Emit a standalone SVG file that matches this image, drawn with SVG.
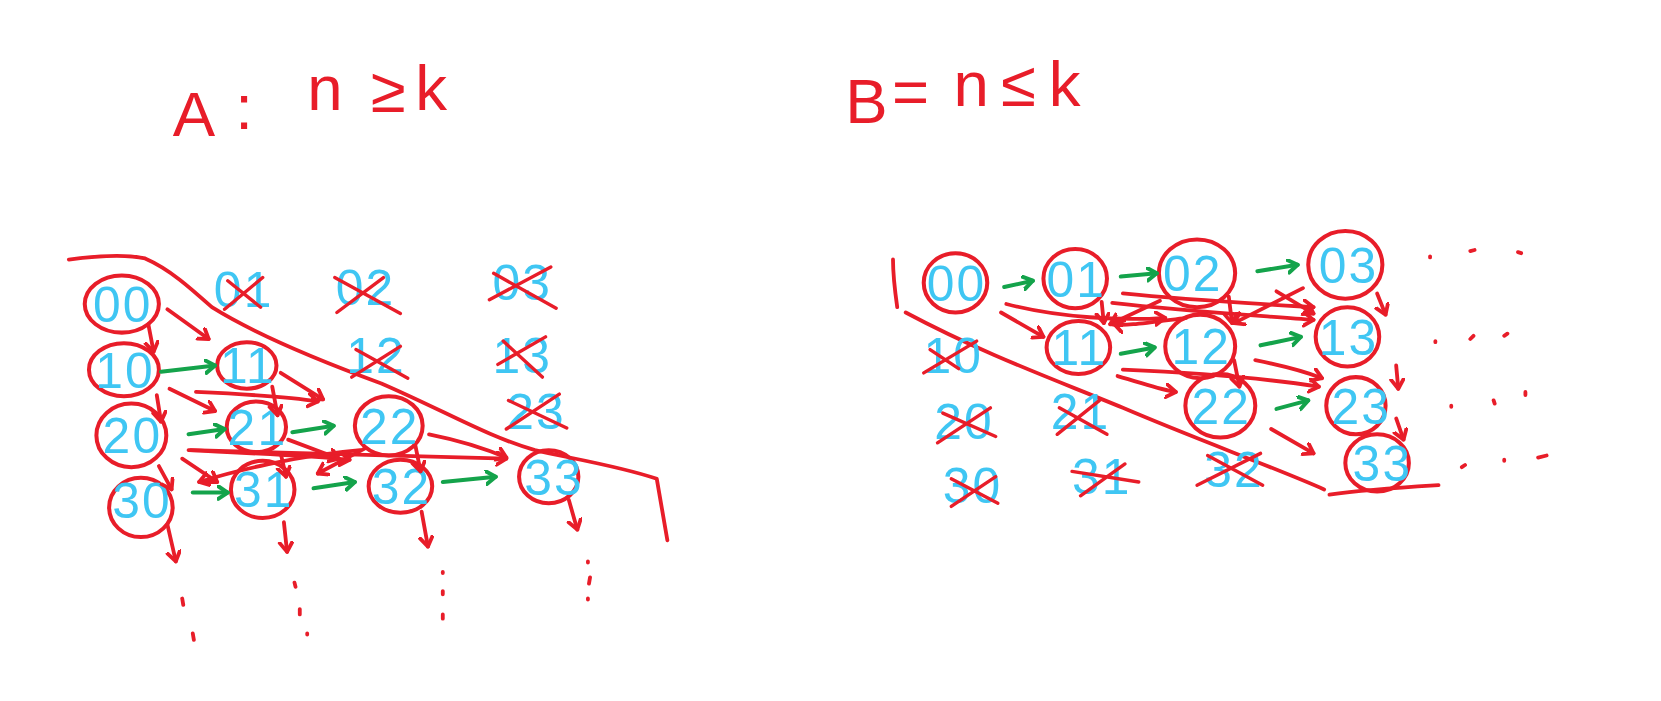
<svg xmlns="http://www.w3.org/2000/svg" width="1661" height="701" viewBox="0 0 1661 701">
<style>
.r{stroke:#e81d29;fill:none;stroke-width:3.6;stroke-linecap:round;stroke-linejoin:round}
.g{stroke:#14a34b;fill:none;stroke-width:3.8;stroke-linecap:round;stroke-linejoin:round}
.c{stroke:#e81d29;fill:none;stroke-width:3.8}
.x{stroke:#e81d29;fill:none;stroke-width:3.2;stroke-linecap:round}
.l{font-family:"Liberation Sans",Arial,sans-serif;font-size:47px;letter-spacing:2px;fill:#3fc6f3;text-anchor:middle}
.t{font-family:"Liberation Sans",Arial,sans-serif;font-size:60px;fill:#e81d29}
</style>
<defs>
<marker id="ar" markerUnits="userSpaceOnUse" markerWidth="16" markerHeight="16" refX="10" refY="7" orient="auto"><path d="M1,1 L10,7 L1,13" fill="none" stroke="#e81d29" stroke-width="3.6" stroke-linecap="round" stroke-linejoin="round"/></marker>
<marker id="ag" markerUnits="userSpaceOnUse" markerWidth="16" markerHeight="16" refX="10" refY="7" orient="auto"><path d="M1,1 L10,7 L1,13" fill="none" stroke="#14a34b" stroke-width="3.8" stroke-linecap="round" stroke-linejoin="round"/></marker>
</defs>
<rect width="1661" height="701" fill="#ffffff"/>
<g transform="scale(1.05931)">
<g id="titles">
<text class="t" x="163" y="128" font-size="64">A</text>
<text class="t" x="222" y="122" font-size="40">:</text>
<text class="t" x="290" y="104" font-size="52">n</text>
<text class="t" x="350" y="106" font-size="50">≥</text>
<text class="t" x="392" y="104" font-size="62">k</text>
<text class="t" x="798" y="116">B</text>
<text class="t" x="842" y="108" font-size="50">=</text>
<text class="t" x="900" y="100" font-size="52">n</text>
<text class="t" x="945" y="100" font-size="50">≤</text>
<text class="t" x="990" y="100" font-size="62">k</text>
</g>
<g id="boundaries">
<path class="r" d="M65,245 C95,241 120,240 137,244 C160,254 180,272 200,290 C240,315 300,340 360,362 C420,388 460,412 505,425 C540,433 585,440 620,452 L630,510"/>
<path class="r" d="M843,245 C843,262 845,276 847,290"/>
<path class="r" d="M855,295 C930,335 1000,360 1060,385 C1130,415 1200,440 1250,462"/>
<path class="r" d="M1255,467 C1290,462 1325,460 1358,458"/>
</g>
<g id="left-crossed">
<text class="l" x="230" y="290">01</text><path class="x" d="M212,292 L248,262 M215,265 L246,290"/>
<text class="l" x="345" y="288">02</text><path class="x" d="M318,295 L362,262 M316,262 L378,296"/>
<text class="l" x="493" y="283">03</text><path class="x" d="M462,283 L520,252 M466,258 L525,291"/>
<text class="l" x="355" y="352">12</text><path class="x" d="M332,356 L378,327 M336,330 L385,357"/>
<text class="l" x="493" y="352">13</text><path class="x" d="M470,344 L515,318 M475,322 L512,356"/>
<text class="l" x="506" y="405">23</text><path class="x" d="M478,405 L528,372 M480,378 L535,404"/>
</g>
<g id="left-n00"><ellipse class="c" cx="115" cy="287" rx="35" ry="27"/><text class="l" x="116" y="304">00</text></g>
<g id="left-n10"><ellipse class="c" cx="117" cy="349" rx="33" ry="25"/><text class="l" x="118" y="366">10</text></g>
<g id="left-n11"><ellipse class="c" cx="233" cy="345" rx="28" ry="22"/><text class="l" x="234" y="362">11</text></g>
<g id="left-n20"><ellipse class="c" cx="124" cy="411" rx="33" ry="30"/><text class="l" x="125" y="428">20</text></g>
<g id="left-n21"><ellipse class="c" cx="242" cy="403" rx="28" ry="24"/><text class="l" x="243" y="420">21</text></g>
<g id="left-n22"><ellipse class="c" cx="367" cy="402" rx="32" ry="28"/><text class="l" x="368" y="419">22</text></g>
<g id="left-n30"><ellipse class="c" cx="133" cy="479" rx="30" ry="28"/><text class="l" x="134" y="489">30</text></g>
<g id="left-n31"><ellipse class="c" cx="248" cy="462" rx="30" ry="27"/><text class="l" x="249" y="479">31</text></g>
<g id="left-n32"><ellipse class="c" cx="378" cy="459" rx="30" ry="25"/><text class="l" x="379" y="476">32</text></g>
<g id="left-n33"><ellipse class="c" cx="518" cy="450" rx="28" ry="25"/><text class="l" x="523" y="467">33</text></g>
<g id="right-crossed">
<text class="l" x="900" y="352">10</text><path class="x" d="M872,352 L922,322 M878,330 L905,348"/>
<text class="l" x="910" y="414">20</text><path class="x" d="M885,418 L935,385 M890,390 L940,412"/>
<text class="l" x="1020" y="405">21</text><path class="x" d="M998,410 L1038,378 M1000,385 L1045,410"/>
<text class="l" x="918" y="475">30</text><path class="x" d="M898,478 L940,450 M898,452 L942,475"/>
<text class="l" x="1040" y="466">31</text><path class="x" d="M1020,468 L1062,438 M1012,445 L1075,455"/>
<text class="l" x="1165" y="460">32</text><path class="x" d="M1130,458 L1190,428 M1140,430 L1192,458"/>
</g>
<g id="right-n00"><ellipse class="c" cx="902" cy="267" rx="30" ry="28"/><text class="l" x="903" y="284">00</text></g>
<g id="right-n01"><ellipse class="c" cx="1015" cy="263" rx="30" ry="28"/><text class="l" x="1016" y="280">01</text></g>
<g id="right-n02"><ellipse class="c" cx="1130" cy="258" rx="36" ry="32"/><text class="l" x="1126" y="275">02</text></g>
<g id="right-n03"><ellipse class="c" cx="1270" cy="250" rx="35" ry="32"/><text class="l" x="1273" y="267">03</text></g>
<g id="right-n11"><ellipse class="c" cx="1018" cy="328" rx="30" ry="25"/><text class="l" x="1019" y="345">11</text></g>
<g id="right-n12"><ellipse class="c" cx="1133" cy="327" rx="33" ry="30"/><text class="l" x="1134" y="344">12</text></g>
<g id="right-n13"><ellipse class="c" cx="1272" cy="318" rx="30" ry="28"/><text class="l" x="1273" y="335">13</text></g>
<g id="right-n22"><ellipse class="c" cx="1152" cy="383" rx="33" ry="30"/><text class="l" x="1153" y="400">22</text></g>
<g id="right-n23"><ellipse class="c" cx="1280" cy="383" rx="28" ry="27"/><text class="l" x="1285" y="400">23</text></g>
<g id="right-n33"><ellipse class="c" cx="1300" cy="437" rx="30" ry="27"/><text class="l" x="1305" y="454">33</text></g>
<g id="connectors">
<path class="g" marker-end="url(#ag)" d="M152,351 L203,345"/>
<path class="g" marker-end="url(#ag)" d="M178,410 L212,405"/>
<path class="g" marker-end="url(#ag)" d="M276,408 L315,402"/>
<path class="g" marker-end="url(#ag)" d="M182,465 L215,465"/>
<path class="g" marker-end="url(#ag)" d="M296,461 L335,455"/>
<path class="g" marker-end="url(#ag)" d="M418,455 L468,450"/>
<path class="r" marker-end="url(#ar)" d="M140,306 L145,332"/>
<path class="r" marker-end="url(#ar)" d="M158,292 L197,320"/>
<path class="r" marker-end="url(#ar)" d="M148,373 L152,398"/>
<path class="r" marker-end="url(#ar)" d="M160,367 L203,388"/>
<path class="r" marker-end="url(#ar)" d="M185,370 C230,372 270,374 300,379"/>
<path class="r" marker-end="url(#ar)" d="M265,352 L305,377"/>
<path class="r" marker-end="url(#ar)" d="M257,365 L262,392"/>
<path class="r" marker-end="url(#ar)" d="M265,428 L270,450"/>
<path class="r" marker-end="url(#ar)" d="M150,440 L162,462"/>
<path class="r" marker-end="url(#ar)" d="M172,433 L205,455"/>
<path class="r" marker-end="url(#ar)" d="M178,425 C240,428 290,430 330,434"/>
<path class="r" marker-end="url(#ar)" d="M180,425 C300,428 400,430 478,433"/>
<path class="r" marker-end="url(#ar)" d="M272,415 L320,433"/>
<path class="r" marker-end="url(#ar)" d="M345,423 L300,447"/>
<path class="r" marker-end="url(#ar)" d="M340,425 C280,430 220,445 188,455"/>
<path class="r" marker-end="url(#ar)" d="M392,420 L397,445"/>
<path class="r" marker-end="url(#ar)" d="M405,410 C430,415 455,422 478,432"/>
<path class="r" marker-end="url(#ar)" d="M158,495 L166,530"/>
<path class="r" marker-end="url(#ar)" d="M268,493 L271,521"/>
<path class="r" marker-end="url(#ar)" d="M398,483 L404,516"/>
<path class="r" marker-end="url(#ar)" d="M537,472 L545,500"/>
<path class="g" marker-end="url(#ag)" d="M948,271 L975,265"/>
<path class="g" marker-end="url(#ag)" d="M1058,261 L1092,258"/>
<path class="g" marker-end="url(#ag)" d="M1187,256 L1225,250"/>
<path class="g" marker-end="url(#ag)" d="M1058,334 L1090,328"/>
<path class="g" marker-end="url(#ag)" d="M1190,326 L1228,318"/>
<path class="g" marker-end="url(#ag)" d="M1205,386 L1235,378"/>
<path class="r" marker-end="url(#ar)" d="M945,295 L985,318"/>
<path class="r" marker-end="url(#ar)" d="M950,287 C1000,300 1060,303 1100,300"/>
<path class="r" marker-end="url(#ar)" d="M1060,277 C1120,283 1190,287 1240,290"/>
<path class="r" marker-end="url(#ar)" d="M1050,286 C1120,294 1190,298 1240,302"/>
<path class="r" marker-end="url(#ar)" d="M1040,285 L1042,305"/>
<path class="r" marker-end="url(#ar)" d="M1095,284 L1048,306"/>
<path class="r" marker-end="url(#ar)" d="M1160,280 L1163,305"/>
<path class="r" marker-end="url(#ar)" d="M1230,272 L1165,305"/>
<path class="r" marker-end="url(#ar)" d="M1205,275 L1240,296"/>
<path class="r" marker-end="url(#ar)" d="M1120,300 C1080,305 1060,308 1052,306"/>
<path class="r" marker-end="url(#ar)" d="M1055,355 C1080,362 1095,368 1110,370"/>
<path class="r" marker-end="url(#ar)" d="M1060,349 C1130,352 1200,358 1245,365"/>
<path class="r" marker-end="url(#ar)" d="M1185,340 C1210,345 1230,350 1248,357"/>
<path class="r" marker-end="url(#ar)" d="M1165,340 L1170,365"/>
<path class="r" marker-end="url(#ar)" d="M1200,405 L1240,428"/>
<path class="r" marker-end="url(#ar)" d="M1300,277 L1308,297"/>
<path class="r" marker-end="url(#ar)" d="M1318,345 L1320,367"/>
<path class="r" marker-end="url(#ar)" d="M1318,395 L1325,415"/>
</g>
<g id="ellipsis-dots">
<path class="r" d="M172,565 l1,6 M182,598 l1,6 M278,550 l1,4 M283,575 l0,5 M290,598 l0,1 M418,540 l0,1 M418,558 l0,3 M418,580 l0,4 M555,530 l0,1 M557,545 l-1,6 M555,565 l0,1"/>
<path class="r" d="M1350,242 l0,1 M1388,237 l4,-1 M1433,238 l3,1 M1355,322 l0,1 M1388,320 l3,-3 M1420,317 l3,-2 M1370,383 l0,1 M1410,378 l1,3 M1440,370 l0,3 M1380,441 l3,-2 M1420,434 l0,1 M1452,432 l8,-2"/>
</g>
</g>
</svg>
